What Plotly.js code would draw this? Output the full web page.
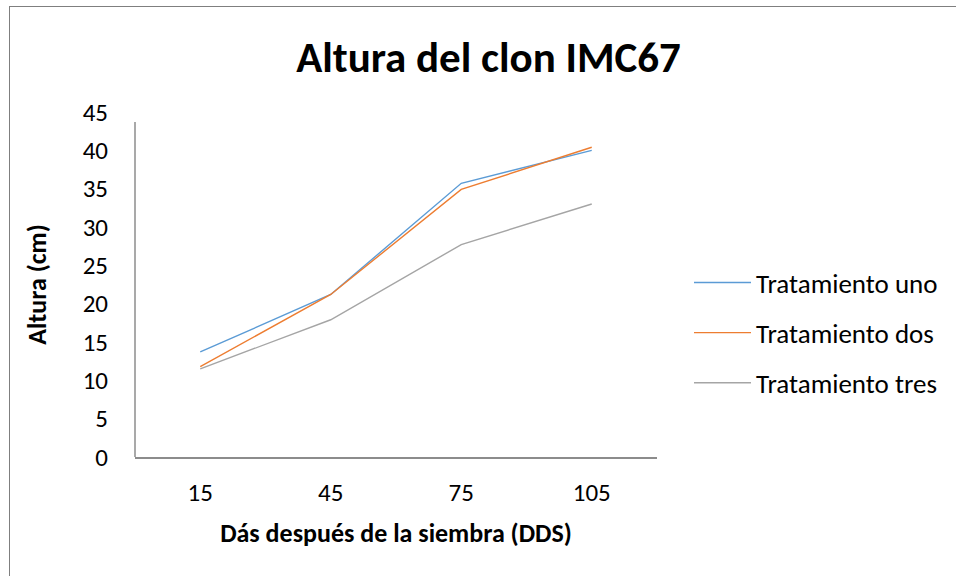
<!DOCTYPE html>
<html>
<head>
<meta charset="utf-8">
<script src="https://cdn.plot.ly/plotly-3.0.1.min.js"></script>
<style>
  html, body { margin: 0; padding: 0; background: #fff; }
  #frame { position: absolute; left: 9px; top: 6px; width: 947px; height: 570px;
           border-top: 1px solid #7f7f7f; border-left: 1px solid #7f7f7f; pointer-events: none; z-index: 5; }
  #chart { width: 956px; height: 576px; }
</style>
</head>
<body>
<div id="frame"></div>
<div id="chart"></div>
<script>
const dias = [15, 45, 75, 105];
const tickLabels = ['15', '45', '75', '105'];
const seriesNames = ['Tratamiento uno', 'Tratamiento dos', 'Tratamiento tres'];
const tratamientoUno = [13.7, 21.2, 35.7, 40.0];
const tratamientoDos = [11.8, 21.2, 34.9, 40.4];
const tratamientoTres = [11.5, 17.9, 27.7, 33.0];
const colors = ['#5B9BD5', '#ED7D31', '#A5A5A5'];

const FONT = 'Carlito, Calibri, Lato, sans-serif';
const allSeries = [tratamientoUno, tratamientoDos, tratamientoTres];
const traces = allSeries.map((vals, i) => ({
  x: dias, y: vals, type: 'scatter', mode: 'lines', name: seriesNames[i],
  legendgroup: 'g' + i,
  line: { color: colors[i], width: 1.4 }
}));

const layout = {
  width: 956, height: 576,
  margin: { l: 135, r: 299, t: 112, b: 119 },
  paper_bgcolor: '#fff', plot_bgcolor: '#fff',
  font: { family: FONT, color: '#000', size: 25 },
  title: { text: '<b>Altura del clon IMC67</b>', font: { family: FONT, size: 43, color: '#000' },
           x: 0.511, xanchor: 'center', y: 0.9, yanchor: 'middle', yref: 'container' },
  xaxis: {
    range: [0, 120], tickvals: dias, ticktext: tickLabels,
    showgrid: false, zeroline: false, showline: true, linecolor: '#8c8c8c', linewidth: 1.5,
    ticks: 'outside', ticklen: 12, tickcolor: 'rgba(0,0,0,0)',
    tickfont: { family: FONT, size: 25, color: '#000' },
    title: { text: '<b>Dás después de la siembra (DDS)</b>', font: { family: FONT, size: 26, color: '#000' }, standoff: 17 }
  },
  yaxis: {
    range: [0, 45], dtick: 5, tick0: 0,
    showgrid: false, zeroline: false, showline: false,
    ticks: 'outside', ticklen: 21, tickcolor: 'rgba(0,0,0,0)',
    tickfont: { family: FONT, size: 25, color: '#000' },
    title: { text: '<b>Altura (cm)</b>', font: { family: FONT, size: 26, color: '#000' }, standoff: 28 }
  },
  shapes: [
    { type: 'line', xref: 'paper', yref: 'paper', x0: 0, x1: 0, y0: 0, y1: (457 - 122) / 345,
      line: { color: '#8c8c8c', width: 1.5 } }
  ],
  legend: {
    xref: 'paper', yanchor: 'middle',
    font: { family: FONT, size: 27, color: '#000' },
    itemwidth: 57,
    tracegroupgap: 12, traceorder: 'grouped', bgcolor: 'rgba(0,0,0,0)'
  },
  showlegend: true
};
layout.title.y = 1 - 57 / 576;
layout.legend.x = (689 - 135) / (657 - 135);
layout.legend.y = (457 - 333) / 345;

Plotly.newPlot('chart', traces, layout, { displayModeBar: false, staticPlot: true });
</script>
</body>
</html>
